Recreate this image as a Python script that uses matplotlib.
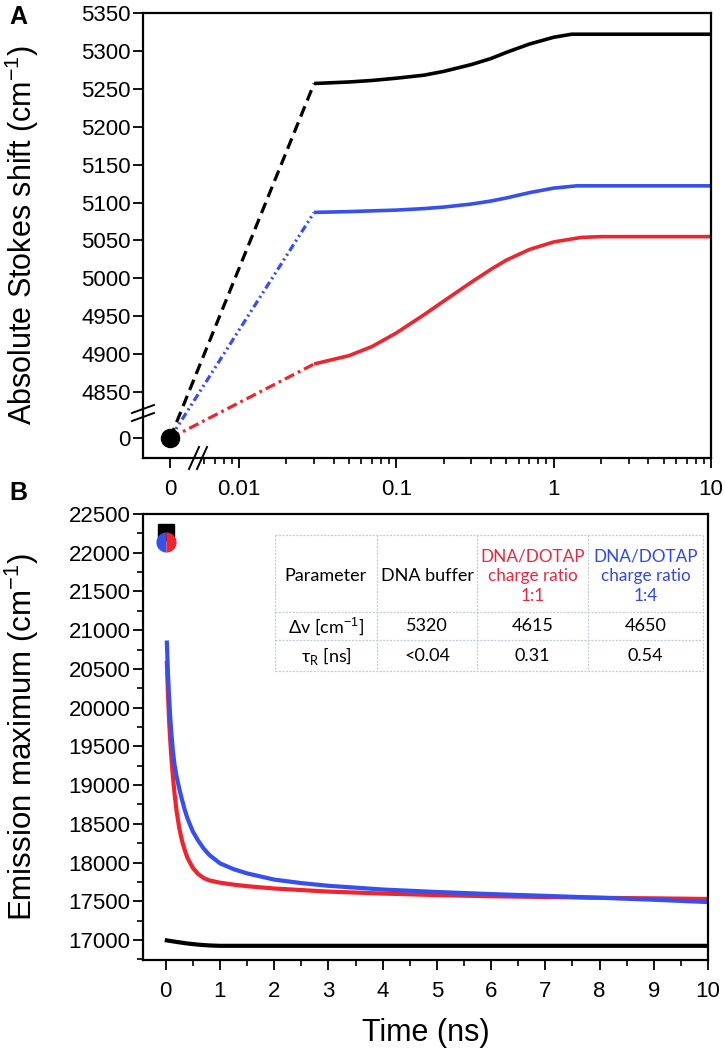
import numpy as np
import matplotlib
matplotlib.use("Agg")
import matplotlib.pyplot as plt
from matplotlib.ticker import FixedLocator, FixedFormatter, MultipleLocator
from matplotlib.lines import Line2D

plt.rcParams['font.family'] = ['Liberation Sans', 'DejaVu Sans']
plt.rcParams['mathtext.fontset'] = 'custom'
plt.rcParams['mathtext.rm'] = 'Liberation Sans'
plt.rcParams['mathtext.it'] = 'Liberation Sans:italic'
plt.rcParams['lines.scale_dashes'] = False

# ---------------- data ----------------
RED = '#f0242c'
BLUE = '#3550ee'
RED_T = '#e8283c'
BLUE_T = '#3048e6'

# Panel A: absolute Stokes shift vs time (log), starting from 0 at t=0
tA_black = [0.03, 0.05, 0.07, 0.1, 0.15, 0.2, 0.3, 0.4, 0.5, 0.7, 1.0, 1.3, 2, 5, 10]
sA_black = [5257, 5259, 5261, 5264, 5268, 5273, 5282, 5290, 5298, 5309, 5318, 5322,
            5322, 5322, 5322]
tA_blue = [0.03, 0.05, 0.07, 0.1, 0.15, 0.2, 0.3, 0.4, 0.5, 0.7, 1.0, 1.4, 2, 5, 10]
sA_blue = [5087, 5088, 5089, 5090, 5092, 5094, 5098, 5102, 5106, 5113, 5119, 5122,
           5122, 5122, 5122]
tA_red = [0.03, 0.05, 0.07, 0.1, 0.15, 0.2, 0.3, 0.4, 0.5, 0.7, 1.0, 1.5, 2, 5, 10]
sA_red = [4887, 4898, 4910, 4928, 4952, 4970, 4995, 5012, 5024, 5038, 5048, 5054,
          5055, 5055, 5055]
origin_t, origin_s = 0.0, 0.0

# Panel B: emission maximum vs time
tB = [0.02, 0.04, 0.06, 0.08, 0.1, 0.13, 0.16, 0.2, 0.25, 0.3, 0.35, 0.4, 0.5,
      0.6, 0.7, 0.8, 1.0, 1.25, 1.5, 2, 2.5, 3, 4, 5, 6, 7, 8, 9, 10]
eB_red = [20580, 20180, 19850, 19600, 19390, 19120, 18900, 18660, 18440, 18280,
          18160, 18060, 17930, 17850, 17800, 17770, 17740, 17715, 17695, 17665,
          17645, 17625, 17600, 17580, 17565, 17555, 17545, 17538, 17530]
eB_blue = [20840, 20450, 20150, 19900, 19700, 19450, 19270, 19110, 18950, 18810,
           18680, 18570, 18400, 18280, 18180, 18100, 17990, 17915, 17860, 17780,
           17735, 17700, 17652, 17620, 17593, 17570, 17546, 17520, 17490]
tB_black = [0.02, 0.2, 0.4, 0.6, 0.8, 1.0, 2, 10]
eB_black = [16995, 16975, 16955, 16940, 16930, 16925, 16925, 16925]
t0_black, e0_black = 0.0, 22270
t0_mix, e0_mix = 0.0, 22140

# table
tab_header = ['Parameter', 'DNA buffer', 'DNA/DOTAP\ncharge ratio\n1:1',
              'DNA/DOTAP\ncharge ratio\n1:4']
tab_row1 = ['Δv [cm$^{-1}$]', '5320', '4615', '4650']
tab_row2 = ['τ$_\\mathregular{R}$ [ns]', '<0.04', '0.31', '0.54']

xticksA = [0, 0.01, 0.1, 1, 10]
xticklabelsA = ['0', '0.01', '0.1', '1', '10']
yticksA = [0] + list(range(4850, 5351, 50))

# ---------------- figure ----------------
W, H = 725, 1050
fig = plt.figure(figsize=(W / 100, H / 100), dpi=100)


def fx(x):
    return x / W


def fy(y):
    return 1 - y / H


axA = fig.add_axes([fx(143), fy(458), (711 - 143) / W, (458 - 13) / H])
axB = fig.add_axes([fx(143), fy(960), (708 - 143) / W, (960 - 514) / H])

# broken-axis scales for panel A
XB = 0.0055
A0 = -2.4387
SX = (np.log10(XB) - A0) / XB


def fwd_x(x):
    x = np.asarray(x, dtype=float)
    return np.where(x >= XB, np.log10(np.maximum(x, XB)), A0 + SX * x)


def inv_x(u):
    u = np.asarray(u, dtype=float)
    return np.where(u >= np.log10(XB), 10 ** np.minimum(u, 10), (u - A0) / SX)


YB = 4815.0
C0 = 4789.0
KY = (YB - C0) / YB


def fwd_y(y):
    y = np.asarray(y, dtype=float)
    return np.where(y >= YB, y, C0 + KY * y)


def inv_y(u):
    u = np.asarray(u, dtype=float)
    return np.where(u >= YB, u, (u - C0) / KY)


axA.set_xscale('function', functions=(fwd_x, inv_x))
axA.set_yscale('function', functions=(fwd_y, inv_y))

lwA = 2.3
axA.plot([origin_t, tA_black[0]], [origin_s, sA_black[0]], color='black', lw=lwA,
         linestyle=(0, (8, 4.5)))
axA.plot([origin_t, tA_blue[0]], [origin_s, sA_blue[0]], color=BLUE, lw=lwA,
         linestyle=(0, (5.5, 2.5, 1.5, 2.5, 1.5, 2.5)))
axA.plot([origin_t, tA_red[0]], [origin_s, sA_red[0]], color=RED, lw=lwA,
         linestyle=(0, (7.5, 3, 2, 3)))
axA.plot(tA_black, sA_black, color='black', lw=lwA + 0.3, solid_capstyle='butt')
axA.plot(tA_blue, sA_blue, color=BLUE, lw=lwA + 0.3, solid_capstyle='butt')
axA.plot(tA_red, sA_red, color=RED, lw=lwA + 0.3, solid_capstyle='butt')
axA.plot([origin_t], [origin_s], 'o', color='black', ms=13, zorder=5)

axA.set_xlim(-0.00528, 10)
axA.set_ylim(-4815, 5350)
axA.xaxis.set_major_locator(FixedLocator(xticksA))
axA.xaxis.set_major_formatter(FixedFormatter(xticklabelsA))
minors = [k * 10.0 ** e for e in range(-3, 1) for k in range(2, 10)]
minors = [m for m in minors if 0.0058 < m < 10]
axA.xaxis.set_minor_locator(FixedLocator(minors))
axA.yaxis.set_major_locator(FixedLocator(yticksA))
axA.yaxis.set_major_formatter(FixedFormatter([str(v) for v in yticksA]))
axA.yaxis.set_minor_locator(FixedLocator([]))
axA.set_ylabel('Absolute Stokes shift (cm$^{-1}$)', fontsize=22, va='center')
axA.yaxis.set_label_coords((22 - 143) / 568.0, 0.5)

# break marks
tA = axA.transAxes
bx = (198 - 143) / 568.0
for dx in (-4, 4):
    x0 = bx + (dx - 5) / 568.0
    x1 = bx + (dx + 5) / 568.0
    axA.plot([x0, x1], [-11 / 445.0, 11 / 445.0], color='black', lw=1.4,
             transform=tA, clip_on=False, zorder=6)
by = (458 - 413) / 445.0
for dy in (-4, 4):
    axA.plot([-11 / 568.0, 11 / 568.0], [by + (dy - 4) / 445.0, by + (dy + 4) / 445.0],
             color='black', lw=1.4, transform=tA, clip_on=False, zorder=6)

# Panel B
lwB = 3.0
axB.plot(tB, eB_red, color=RED, lw=lwB)
axB.plot(tB, eB_blue, color=BLUE, lw=lwB)
axB.plot(tB_black, eB_black, color='black', lw=lwB)
axB.plot([t0_black], [e0_black], 's', color='black', ms=11.5, zorder=4)
axB.plot([t0_mix], [e0_mix], 'o', ms=14.5, fillstyle='left', markerfacecolor=BLUE,
         markerfacecoloralt=RED, markeredgewidth=0, zorder=5)
axB.set_xlim(-0.42, 10)
axB.set_ylim(16742, 22500)
axB.xaxis.set_major_locator(MultipleLocator(1))
axB.xaxis.set_minor_locator(MultipleLocator(0.5))
axB.yaxis.set_major_locator(MultipleLocator(500))
axB.yaxis.set_minor_locator(MultipleLocator(250))
axB.set_ylabel('Emission maximum (cm$^{-1}$)', fontsize=22.5, va='center')
axB.yaxis.set_label_coords((22 - 143) / 565.0, 0.5)
axB.set_xlabel('Time (ns)', fontsize=22, labelpad=12)

for ax in (axA, axB):
    for s in ax.spines.values():
        s.set_linewidth(1.6)
    ax.tick_params(which='major', direction='out', length=7, width=1.3,
                   labelsize=16, pad=2)
    ax.tick_params(which='minor', direction='out', length=4, width=1.2)
    ax.tick_params(top=False, right=False, which='both')
    ax.tick_params(axis='x', which='major', pad=8)

fig.text(fx(9), fy(17), 'A', fontsize=18, fontweight='bold', va='center', ha='left')
fig.text(fx(9), fy(493), 'B', fontsize=18, fontweight='bold', va='center', ha='left')

# table
xs = [275, 377, 477, 588, 703]
ys = [535, 612, 640, 671]
gcol = '#c5ccd3'
for x in xs:
    fig.add_artist(Line2D([fx(x), fx(x)], [fy(ys[0]), fy(ys[-1])], color=gcol,
                          lw=0.9, linestyle=(0, (1.5, 1))))
for y in ys:
    fig.add_artist(Line2D([fx(xs[0]), fx(xs[-1])], [fy(y), fy(y)], color=gcol,
                          lw=0.9, linestyle=(0, (1.5, 1))))
tfont = ['Lato', 'DejaVu Sans']
tsize = 13
hcolors = ['black', 'black', RED_T, BLUE_T]
hsizes = [13, 13, 12.3, 12.3]
for i, txt in enumerate(tab_header):
    cx = (xs[i] + xs[i + 1]) / 2
    cy = 576
    fig.text(fx(cx), fy(cy), txt, ha='center', va='center', color=hcolors[i],
             family=tfont, fontsize=hsizes[i], linespacing=1.3,
             multialignment='center')
for i, txt in enumerate(tab_row1):
    cx = (xs[i] + xs[i + 1]) / 2
    fig.text(fx(cx), fy(626), txt, ha='center', va='center', color='black',
             family=tfont, fontsize=tsize)
for i, txt in enumerate(tab_row2):
    cx = (xs[i] + xs[i + 1]) / 2
    fig.text(fx(cx), fy(656), txt, ha='center', va='center', color='black',
             family=tfont, fontsize=tsize)

fig.savefig('out.png', dpi=100)
